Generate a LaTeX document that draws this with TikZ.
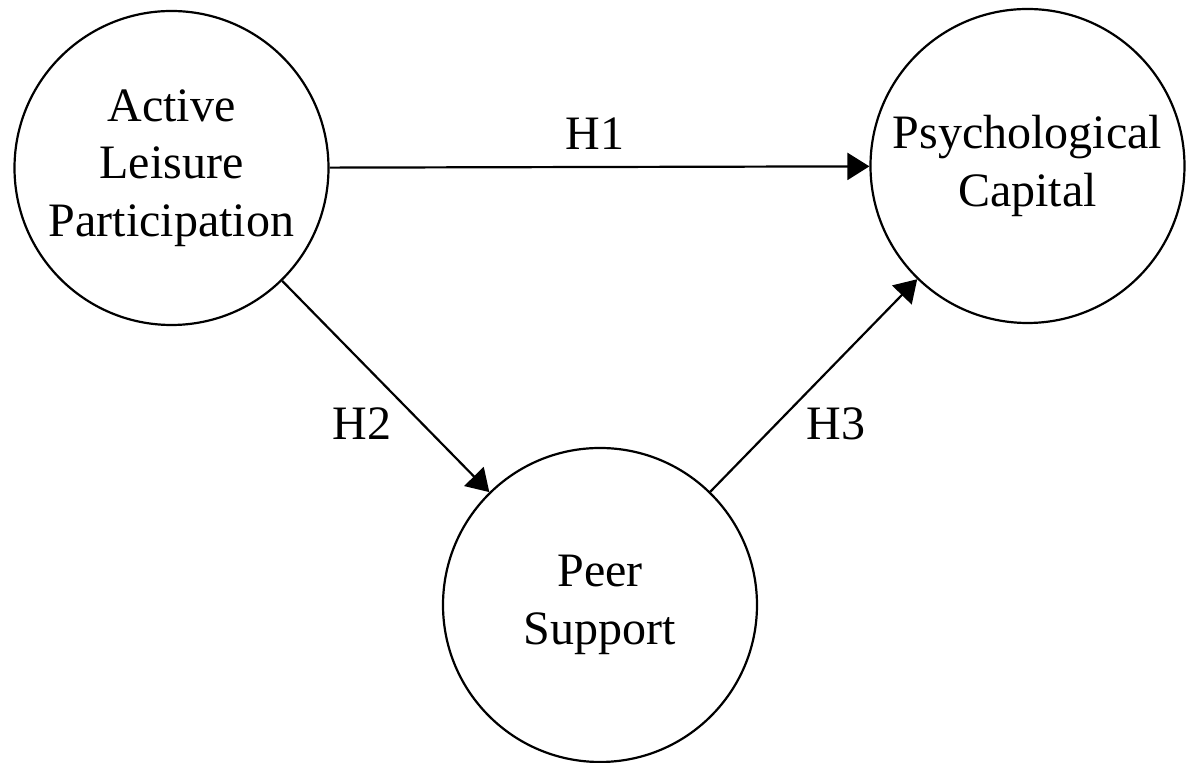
\documentclass[tikz,border=0pt]{standalone}
\usepackage{fontspec}
\setmainfont{Liberation Serif}
\usetikzlibrary{arrows.meta}
\begin{document}
\begin{tikzpicture}[x=1pt,y=1pt,
  construct/.style={draw=black,circle,line width=1.1pt,minimum size=157pt,inner sep=0pt,align=center,font=\fontsize{24}{28.8}\selectfont},
  hyp/.style={font=\fontsize{24}{28.8}\selectfont,inner sep=0pt},
  link/.style={line width=1.1pt,-{Triangle[length=11pt,width=13.5pt]}}]
\useasboundingbox (0,0) rectangle (595.5,-381.5);
\node[construct] (alp) at (85.75,-84) {Active\\Leisure\\Participation};
\node[construct] (pc) at (513.75,-83) {Psychological\\Capital};
\node[construct] (ps) at (300,-302.5) {Peer\\Support};
\draw[link] (alp) -- (pc);
\draw[link] (alp) -- (ps);
\draw[link] (ps) -- (pc);
\node[hyp] (h1) at (297.5,-67) {H1};
\node[hyp] (h2) at (181,-212) {H2};
\node[hyp] (h3) at (418,-212) {H3};
\end{tikzpicture}
\end{document}
